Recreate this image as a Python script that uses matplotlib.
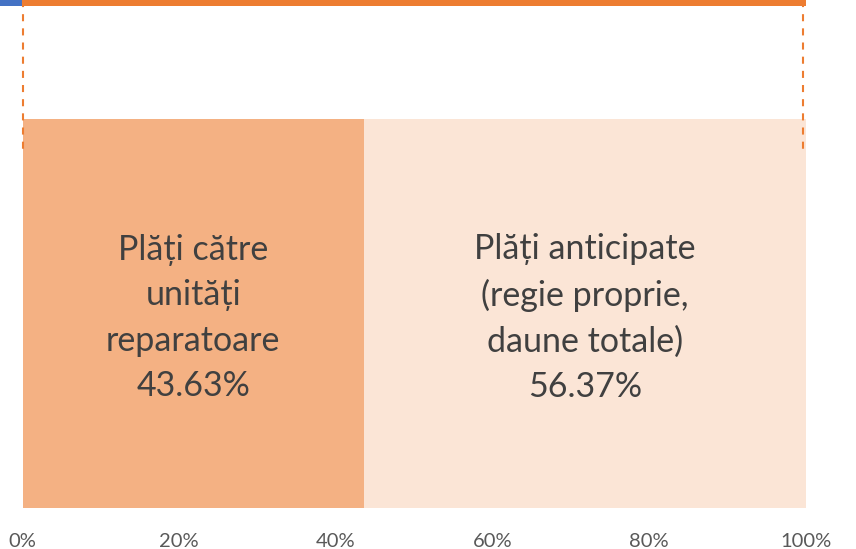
import matplotlib
matplotlib.use("Agg")
import matplotlib.pyplot as plt
from matplotlib.patches import Rectangle

categories = ["Plăți către\nunități\nreparatoare", "Plăți anticipate\n(regie proprie,\ndaune totale)"]
shares = [43.63, 56.37]
colors = ["#F4B183", "#FBE5D6"]
tick_values = [0, 20, 40, 60, 80, 100]
tick_labels = ["0%", "20%", "40%", "60%", "80%", "100%"]

W, H = 856, 549
fig = plt.figure(figsize=(W / 100, H / 100), dpi=100)
x0, x1 = 22.5, 805.5
ybot = 508
ax = fig.add_axes([x0 / W, (H - ybot) / H, (x1 - x0) / W, ybot / H])
ax.set_xlim(0, 100)
ax.set_ylim(ybot, 0)  # pixel-like vertical units, top at 0

# main row
left = 0
for cat, val, col in zip(categories, shares, colors):
    ax.add_patch(Rectangle((left, 119), val, ybot - 119, facecolor=col, edgecolor="none"))
    ax.text(left + val / 2, 318, f"{cat}\n{val:.2f}%", ha="center", va="center",
            fontsize=24.5, color="#404040", family=["Lato", "DejaVu Sans"], linespacing=1.52)
    left += val

# cut-off upper row and dashed guides
ax.add_patch(Rectangle((0, 0), 100, 5.5, facecolor="#ED7D31", edgecolor="none", clip_on=False))
ax.add_patch(Rectangle((-2.9, 0), 2.9, 5.5, facecolor="#4472C4", edgecolor="none", clip_on=False))
for xv in (0, 99.7):
    ax.plot([xv, xv], [0, 150], color="#ED7D31", lw=1.5, ls=(0, (3.4, 3.4)), clip_on=False)

ax.set_xticks(tick_values)
ax.set_xticklabels(tick_labels, fontsize=14.5, color="#595959", family=["Lato", "DejaVu Sans"])
ax.tick_params(axis="x", length=0, pad=18)
ax.set_yticks([])
for s in ax.spines.values():
    s.set_visible(False)

fig.savefig("out.png", dpi=100)
